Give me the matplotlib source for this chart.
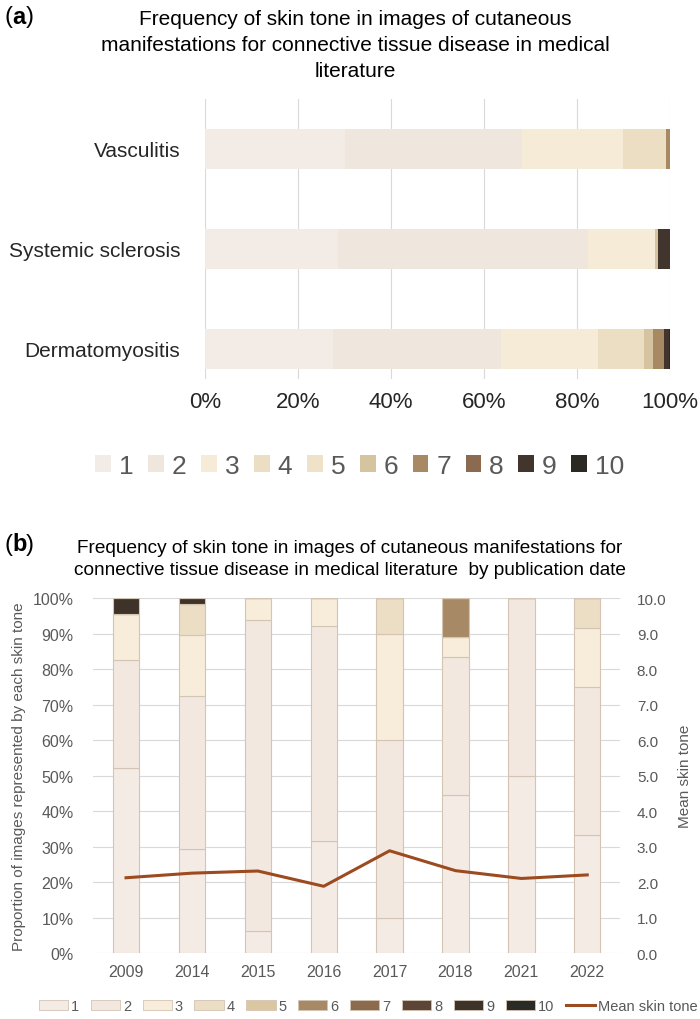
import numpy as np
import matplotlib
matplotlib.use('Agg')
import matplotlib.pyplot as plt
from matplotlib.patches import Patch
from matplotlib.lines import Line2D

plt.rcParams['font.family'] = ['Liberation Sans', 'DejaVu Sans']

# panel (a): share of images per skin tone, by disease
diseases = ['Dermatomyositis', 'Systemic sclerosis', 'Vasculitis']
tones = ['1', '2', '3', '4', '5', '6', '7', '8', '9', '10']
derm_pct = [27.5, 36.2, 20.8, 9.9, 0, 2.0, 2.3, 0, 1.0, 0.3]
ssc_pct = [28.5, 53.9, 14.4, 0, 0, 0.6, 0, 0, 2.6, 0]
vasc_pct = [30.0, 38.2, 21.7, 9.2, 0, 0, 0.9, 0, 0, 0]
colors_a = ['#f2ebe6', '#efe6de', '#f5ebd6', '#ebdec3', '#efe2c8',
            '#d6c3a0', '#a78963', '#8b6a4f', '#41352d', '#2b2924']

# panel (b): share of images per skin tone, by publication year
years = ['2009', '2014', '2015', '2016', '2017', '2018', '2021', '2022']
tone1 = [52.2, 29.3, 6.25, 31.6, 10, 44.4, 50, 33.3]
tone2 = [30.4, 43.1, 87.5, 60.5, 50, 38.9, 50, 41.7]
tone3 = [13.0, 17.2, 6.25, 7.9, 30, 5.6, 0, 16.7]
tone4 = [0, 8.6, 0, 0, 10, 0, 0, 8.3]
tone5 = [0, 0, 0, 0, 0, 0, 0, 0]
tone6 = [0, 0, 0, 0, 0, 11.1, 0, 0]
tone7 = [0, 0, 0, 0, 0, 0, 0, 0]
tone8 = [0, 0, 0, 0, 0, 0, 0, 0]
tone9 = [4.3, 1.7, 0, 0, 0, 0, 0, 0]
tone10 = [0, 0, 0, 0, 0, 0, 0, 0]
mean_tone = [2.12, 2.25, 2.31, 1.88, 2.88, 2.32, 2.10, 2.20]
colors_b = ['#f5ebe5', '#f2e8e0', '#f8edda', '#ebdec5', '#dac7a2',
            '#a78a65', '#8b6a4e', '#5c4536', '#3e3329', '#2a2a26']

gray = '#595959'


def panel_tag(y, letter):
    # "(a)" with only the letter in bold
    fig.text(0.007, y, '(', ha='left', va='center', fontsize=17)
    fig.text(0.018, y, letter, ha='left', va='center', fontsize=17, weight='bold')
    fig.text(0.037, y, ')', ha='left', va='center', fontsize=17)


fig = plt.figure(figsize=(7, 10.2), dpi=100)

# ---------- (a) ----------
ax1 = fig.add_axes([0.293, 0.6275, 0.664, 0.2745])
by_disease = np.array([derm_pct, ssc_pct, vasc_pct])
ypos = np.arange(len(diseases))
left = np.zeros(len(diseases))
for i in range(len(tones)):
    ax1.barh(ypos, by_disease[:, i], left=left, height=0.4,
             color=colors_a[i], linewidth=0)
    left += by_disease[:, i]
ax1.set_xlim(0, 100)
ax1.set_ylim(-0.3, 2.5)
ax1.set_yticks(ypos)
ax1.set_yticklabels(diseases, fontsize=15, color='#262626')
ax1.set_xticks(np.arange(0, 101, 20))
ax1.set_xticklabels([f'{v}%' for v in range(0, 101, 20)], fontsize=16, color='#262626')
ax1.tick_params(length=0, pad=9)
ax1.tick_params(axis='y', pad=18)
for s in ax1.spines.values():
    s.set_visible(False)
ax1.grid(axis='x', color='#d9d9d9', linewidth=0.8)
ax1.set_axisbelow(True)

fig.text(0.507, 0.99, 'Frequency of skin tone in images of cutaneous\n'
         'manifestations for connective tissue disease in medical\nliterature',
         ha='center', va='top', fontsize=15, linespacing=1.45)
panel_tag(0.983, 'a')

handles_a = [Patch(facecolor=colors_a[i], edgecolor='none', label=tones[i]) for i in range(len(tones))]
fig.legend(handles=handles_a, loc='center', bbox_to_anchor=(0.514, 0.542), ncol=10,
           frameon=False, fontsize=19, handlelength=0.6, handleheight=0.6,
           handletextpad=0.3, columnspacing=0.55, labelcolor=gray)

# ---------- (b) ----------
ax2 = fig.add_axes([0.133, 0.0647, 0.753, 0.348])
by_year = np.array([tone1, tone2, tone3, tone4, tone5, tone6, tone7, tone8, tone9, tone10])
xpos = np.arange(len(years))
bottom = np.zeros(len(years))
for i in range(len(tones)):
    ax2.bar(xpos, by_year[i], bottom=bottom, width=0.4, color=colors_b[i],
            edgecolor='#d3c4b4', linewidth=0.8, zorder=2)
    bottom += by_year[i]
ax2.set_xlim(-0.5, len(years) - 0.5)
ax2.set_ylim(0, 100)
ax2.set_yticks(np.arange(0, 101, 10))
ax2.set_yticklabels([f'{v}%' for v in range(0, 101, 10)], fontsize=11.5, color=gray)
ax2.set_xticks(xpos)
ax2.set_xticklabels(years, fontsize=11.5, color=gray)
ax2.tick_params(length=0, pad=8)
ax2.tick_params(axis='y', pad=14)
for s in ax2.spines.values():
    s.set_visible(False)
ax2.grid(axis='y', color='#d9d9d9', linewidth=0.8, zorder=0)
ax2.set_axisbelow(True)
ax2.set_ylabel('Proportion of images represented by each skin tone', fontsize=11,
               color=gray, labelpad=5)

ax3 = ax2.twinx()
ax3.plot(xpos, mean_tone, color='#9c4a1f', linewidth=2.2, zorder=3)
ax3.set_ylim(0, 10)
ax3.set_yticks(np.arange(0, 11, 1))
ax3.set_yticklabels([f'{v:.1f}' for v in range(0, 11)], fontsize=11, color=gray)
ax3.tick_params(length=0, pad=12)
for s in ax3.spines.values():
    s.set_visible(False)
ax3.set_ylabel('Mean skin tone', fontsize=11, color=gray, labelpad=8)

fig.text(0.5, 0.471, 'Frequency of skin tone in images of cutaneous manifestations for\n'
         'connective tissue disease in medical literature  by publication date',
         ha='center', va='top', fontsize=13.7, linespacing=1.45)
panel_tag(0.466, 'b')

handles_b = [Patch(facecolor=colors_b[i], edgecolor='#d3c4b4', linewidth=0.6, label=tones[i])
             for i in range(len(tones))]
handles_b.append(Line2D([], [], color='#9c4a1f', linewidth=2.2, label='Mean skin tone'))
fig.legend(handles=handles_b, loc='center', bbox_to_anchor=(0.526, 0.013), ncol=11,
           frameon=False, fontsize=10.5, handlelength=2.0, handleheight=0.7,
           handletextpad=0.2, columnspacing=0.8, labelcolor=gray)

fig.savefig('out.png', dpi=100)
